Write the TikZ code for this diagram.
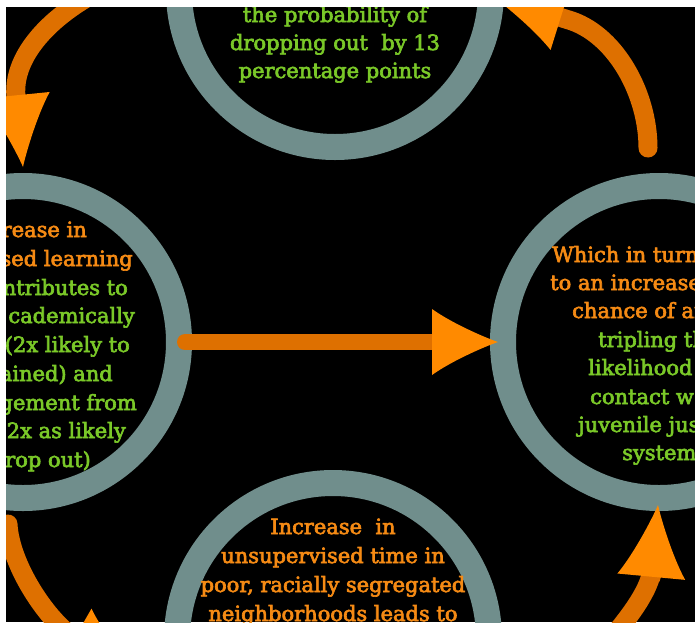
\documentclass[tikz,border=0pt]{standalone}
\usepackage{fontspec}
\setmainfont{DejaVu Serif}
\newfontfamily\cyclefont{DejaVu Serif}[FakeBold=3]
\usetikzlibrary{arrows.meta}

\definecolor{ringgray}{RGB}{112,142,140}
\definecolor{txtorange}{RGB}{245,138,20}
\definecolor{txtgreen}{RGB}{122,200,40}
\definecolor{shaftorange}{RGB}{222,112,0}
\definecolor{headorange}{RGB}{255,138,0}

\begin{document}
\begin{tikzpicture}[x=1pt,y=-1pt]
		\newcommand{\ringwd}{26pt} % thickness of the rings
		\newcommand{\ringdiam}{312pt}

		% styles of the rings, texts and arrows
		\tikzset{
			ring/.style={
				circle,
				draw=ringgray,
				line width=\ringwd,
				minimum size=\ringdiam,
				inner sep=0pt
				},
			otxt/.style={text=txtorange, font=\cyclefont\fontsize{21}{25}\selectfont, inner sep=0pt},
			gtxt/.style={otxt, text=txtgreen},
			flowarrow/.style={
				draw=shaftorange,
				line width=16pt,
				line cap=round,
				-{Latex[length=66pt,width=66pt,line width=0pt,color=headorange]}
				},
			bentarrow/.style={
				flowarrow,
				line width=19pt,
				-{Latex[length=72pt,width=68pt,line width=0pt,color=headorange]}
				}
		}

		% frame
		\useasboundingbox (0,0) rectangle (695,622);
		\fill[white] (0,0) rectangle (695,622);
		\fill[black] (6,7) rectangle (695,622);
		\clip (6,7) rectangle (695,622);

		% rings
		\node[ring] (top) at (335,-9) {};
		\node[ring] (lft) at (23,342) {};
		\node[ring] (rgt) at (659,342) {};
		\node[ring] (bot) at (333,639) {};

		% arrow ends
		\coordinate (tlstart) at (150,-30);
		\coordinate (tlback) at (16,97);
		\coordinate (tltip) at (23,167);
		\coordinate (trstart) at (648,148);
		\coordinate (trback) at (572,21);
		\coordinate (trtip) at (492,-4);
		\coordinate (brstart) at (575,680);
		\coordinate (brback) at (652,569);
		\coordinate (brtip) at (658,505);
		\coordinate (blstart) at (8,524);
		\coordinate (blback) at (76,639);
		\coordinate (bltip) at (137,674);

		% arrows
		\draw[flowarrow, shorten <=-7pt, shorten >=-8pt] (lft) -- (rgt);
		\draw[bentarrow] (tlstart) .. controls (70,-5) and (11,47) .. (tlback) -- (tltip);
		\draw[bentarrow] (trstart) .. controls (648,95) and (617,37) .. (trback) -- (trtip);
		\draw[bentarrow] (brstart) .. controls (605,645) and (649,600) .. (brback) -- (brtip);
		\draw[bentarrow] (blstart) .. controls (10,565) and (48,622) .. (blback) -- (bltip);

		% top circle text
		\node[gtxt, anchor=base] (top1) at (335,22) {the probability of};
		\node[gtxt, anchor=base] (top2) at (335,50) {dropping out\ \ by 13};
		\node[gtxt, anchor=base] (top3) at (335,78) {percentage points};

		% left circle text
		\node[otxt, anchor=base east] (lft1) at (87,237) {rease in};
		\node[otxt, anchor=base east] (lft2) at (133,266) {sed learning};
		\node[gtxt, anchor=base east] (lft3) at (128,295) {ntributes to};
		\node[gtxt, anchor=base east] (lft4) at (135,323) {cademically};
		\node[gtxt, anchor=base east] (lft5) at (130,352) {(2x likely to};
		\node[gtxt, anchor=base east] (lft6) at (113,381) {ained) and};
		\node[gtxt, anchor=base east] (lft7) at (137,410) {gement from};
		\node[gtxt, anchor=base east] (lft8) at (126,438) {2x as likely};
		\node[gtxt, anchor=base east] (lft9) at (91,467) {rop out)};

		% right circle text
		\node[otxt, anchor=base west] (rgt1) at (552,262) {Which in turn};
		\node[otxt, anchor=base west] (rgt2) at (550,290) {to an increase};
		\node[otxt, anchor=base west] (rgt3) at (572,318) {chance of ar};
		\node[gtxt, anchor=base west] (rgt4) at (598,347) {tripling th};
		\node[gtxt, anchor=base west] (rgt5) at (588,375) {likelihood};
		\node[gtxt, anchor=base west] (rgt6) at (590,404) {contact w};
		\node[gtxt, anchor=base west] (rgt7) at (578,432) {juvenile jus};
		\node[gtxt, anchor=base west] (rgt8) at (622,460) {system};

		% bottom circle text
		\node[otxt, anchor=base] (bot1) at (333,534) {Increase\ \ in};
		\node[otxt, anchor=base] (bot2) at (333,563) {unsupervised time in};
		\node[otxt, anchor=base] (bot3) at (333,592) {poor, racially segregated};
		\node[otxt, anchor=base] (bot4) at (333,621) {neighborhoods leads to};
\end{tikzpicture}
\end{document}
